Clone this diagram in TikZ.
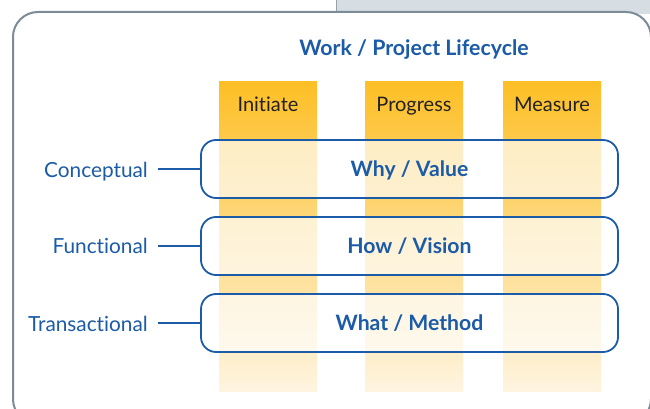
\documentclass[tikz,border=0pt]{standalone}
\usepackage{fontspec}
\setmainfont{Lato}[Ligatures={NoCommon}]
\usetikzlibrary{positioning}
\definecolor{lifeblue}{HTML}{1B5BA7}
\definecolor{framegray}{HTML}{7B8B97}
\definecolor{panelgray}{HTML}{D6DEE4}
\definecolor{phasetop}{HTML}{FDBF26}
\definecolor{phasebot}{HTML}{FEF4E0}
\definecolor{headtext}{HTML}{222222}
\begin{document}
\begin{tikzpicture}[x=1pt,y=-1pt,
    phase/.style={anchor=north, minimum width=98pt, minimum height=310pt, inner sep=0pt,
      top color=phasetop, bottom color=phasebot, draw=none},
    phasename/.style={font=\fontsize{20}{24}\selectfont, text=headtext, anchor=base},
    level/.style={font=\fontsize{20.8}{24}\selectfont, text=lifeblue, anchor=base east, inner sep=0pt},
    rowbox/.style={draw=lifeblue, line width=1.8pt, rounded corners=15pt, fill=white,
      fill opacity=0.68, text opacity=1, minimum width=417pt, minimum height=58pt,
      text height=15pt, text depth=0pt,
      font=\bfseries\fontsize{21.2}{25}\selectfont, text=lifeblue},
    link/.style={draw=lifeblue, line width=2.5pt}]
    \useasboundingbox (0,0) rectangle (650,409);
    %Shape: Rectangle (panel behind)
    \fill[panelgray] (336,0) rectangle (652,14);
    \draw[framegray!80, line width=0.8pt] (336,0) -- (336,12);
    %Shape: Rounded Rectangle (frame)
    \draw[framegray, line width=2pt, fill=white, rounded corners=25pt] (13,12) rectangle (651,424);

    % Title
    \node[font=\bfseries\fontsize{21.3}{25}\selectfont, text=lifeblue, anchor=base] (title) at (414,56) {Work / Project Lifecycle};

    % Phase columns
    \node[phase] (colinit) at (268,81) {};
    \node[phase] (colprog) at (414,81) {};
    \node[phase] (colmeas) at (552,81) {};
    \node[phasename] (init) at ([yshift=-31pt]colinit.north) {Initiate};
    \node[phasename] (prog) at ([yshift=-31pt]colprog.north) {Progress};
    \node[phasename] (meas) at ([yshift=-31pt]colmeas.north) {Measure};

    % Rows
    \node[rowbox] (why) at (409.5,169) {Why / Value};
    \node[rowbox] (how) at (409.5,246) {How / Vision};
    \node[rowbox] (what) at (409.5,323) {What / Method};

    % Levels
    \node[level] (conc) at (148,177) {Conceptual};
    \node[level] (func) at (148,253) {Functional};
    \node[level] (trans) at (148,331) {Transactional};
    \draw[link] ([xshift=10pt]conc.east |- why.west) -- (why.west);
    \draw[link] ([xshift=10pt]func.east |- how.west) -- (how.west);
    \draw[link] ([xshift=10pt]trans.east |- what.west) -- (what.west);
\end{tikzpicture}
\end{document}
